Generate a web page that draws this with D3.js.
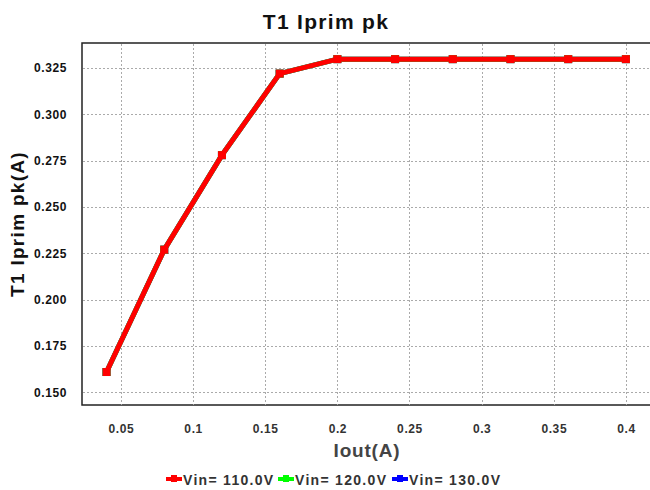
<!DOCTYPE html>
<html>
<head>
<meta charset="utf-8">
<script src="https://cdn.jsdelivr.net/npm/d3@7"></script>
<style>
  body { margin: 0; background: #fff; }
  text { font-family: "Liberation Sans", Arial, sans-serif; font-weight: bold; }
</style>
</head>
<body>
<div id="chart"></div>
<script>
// data
var iout = [0.04, 0.08, 0.12, 0.16, 0.2, 0.24, 0.28, 0.32, 0.36, 0.4];
var vin110 = [0.161, 0.227, 0.278, 0.322, 0.3298, 0.3298, 0.3298, 0.3298, 0.3298, 0.3298];
var vin120 = [0.161, 0.227, 0.278, 0.322, 0.3298, 0.3298, 0.3298, 0.3298, 0.3298, 0.3298];
var vin130 = [0.161, 0.227, 0.278, 0.322, 0.3298, 0.3298, 0.3298, 0.3298, 0.3298, 0.3298];
var xTicks = [0.05, 0.1, 0.15, 0.2, 0.25, 0.3, 0.35, 0.4];
var yTicks = [0.150, 0.175, 0.200, 0.225, 0.250, 0.275, 0.300, 0.325];
var seriesNames = ["Vin= 110.0V", "Vin= 120.0V", "Vin= 130.0V"];
var seriesColors = ["#ff0000", "#00ff00", "#0000ff"];

var w = 650, h = 490,
    pLeft = 82, pTop = 43, pRight = 656, pBottom = 405;

var svg = d3.select("#chart").append("svg")
    .attr("width", w)
    .attr("height", h);

var x = d3.scaleLinear().domain([0.023, 0.4167]).range([pLeft, pRight - 6]);
var y = d3.scaleLinear().domain([0.1432, 0.3385]).range([pBottom, pTop]);

// plot frame
svg.append("rect")
    .attr("x", pLeft).attr("y", pTop)
    .attr("width", pRight - pLeft).attr("height", pBottom - pTop)
    .style("fill", "#fff")
    .style("stroke", "#222")
    .style("stroke-width", 1.5);

// grid
svg.append("g").selectAll("line")
    .data(xTicks).enter().append("line")
    .attr("x1", function(d) { return Math.round(x(d)) + 0.5; })
    .attr("x2", function(d) { return Math.round(x(d)) + 0.5; })
    .attr("y1", pTop + 1).attr("y2", pBottom)
    .style("stroke", "#aaa")
    .style("stroke-dasharray", "2,2");

svg.append("g").selectAll("line")
    .data(yTicks).enter().append("line")
    .attr("y1", function(d) { return Math.round(y(d)) + 0.5; })
    .attr("y2", function(d) { return Math.round(y(d)) + 0.5; })
    .attr("x1", pLeft + 1).attr("x2", pRight)
    .style("stroke", "#aaa")
    .style("stroke-dasharray", "2,2");

// axes (labels only)
var xAxis = svg.append("g")
    .attr("transform", "translate(0," + (pBottom + 16) + ")")
    .call(d3.axisBottom(x).tickValues(xTicks).tickSize(0).tickFormat(d3.format("")));
xAxis.select(".domain").remove();
xAxis.selectAll("text")
    .style("font-size", "12px")
    .style("letter-spacing", "0.6px")
    .style("fill", "#333");

var yAxis = svg.append("g")
    .attr("transform", "translate(" + (pLeft - 12) + ",0)")
    .call(d3.axisLeft(y).tickValues(yTicks).tickSize(0).tickFormat(d3.format(".3f")));
yAxis.select(".domain").remove();
yAxis.selectAll("text")
    .style("font-size", "12px")
    .style("letter-spacing", "0.6px")
    .style("fill", "#111");

// series, red drawn last so it sits on top
var series = [
    { name: seriesNames[2], color: seriesColors[2], values: vin130 },
    { name: seriesNames[1], color: seriesColors[1], values: vin120 },
    { name: seriesNames[0], color: seriesColors[0], values: vin110 }
];

var line = d3.line()
    .x(function(d, i) { return x(iout[i]); })
    .y(function(d) { return y(d); });

series.forEach(function(s) {
    svg.append("path")
        .datum(s.values)
        .attr("d", line)
        .style("fill", "none")
        .style("stroke", s.color)
        .style("stroke-width", 5);

    svg.append("g").selectAll("rect")
        .data(s.values).enter().append("rect")
        .attr("x", function(d, i) { return x(iout[i]) - 4; })
        .attr("y", function(d) { return y(d) - 4; })
        .attr("width", 8).attr("height", 8)
        .style("fill", s.color);
});

// titles
svg.append("text")
    .attr("x", 326).attr("y", 29)
    .attr("text-anchor", "middle")
    .style("font-size", "21px")
    .style("letter-spacing", "1.3px")
    .style("fill", "#111")
    .text("T1 Iprim pk");

svg.append("text")
    .attr("x", 367).attr("y", 457)
    .attr("text-anchor", "middle")
    .style("font-size", "19px")
    .style("letter-spacing", "0.8px")
    .style("fill", "#444")
    .text("Iout(A)");

svg.append("text")
    .attr("transform", "translate(24," + (pTop + pBottom) / 2 + ") rotate(-90)")
    .attr("text-anchor", "middle")
    .style("font-size", "19px")
    .style("letter-spacing", "1.3px")
    .style("fill", "#111")
    .text("T1 Iprim pk(A)");

// legend
var legendX = [166, 278, 392];
var legend = svg.append("g").selectAll("g")
    .data(seriesNames).enter().append("g")
    .attr("transform", function(d, i) { return "translate(" + legendX[i] + ",480)"; });

legend.append("rect")
    .attr("x", 0).attr("y", -3)
    .attr("width", 16).attr("height", 4)
    .style("fill", function(d, i) { return seriesColors[i]; });
legend.append("rect")
    .attr("x", 5).attr("y", -5)
    .attr("width", 6).attr("height", 7)
    .style("fill", function(d, i) { return seriesColors[i]; });
legend.append("text")
    .attr("x", 17).attr("y", 5)
    .style("font-size", "14px")
    .style("letter-spacing", "1.3px")
    .style("fill", "#333")
    .text(function(d) { return d; });
</script>
</body>
</html>
